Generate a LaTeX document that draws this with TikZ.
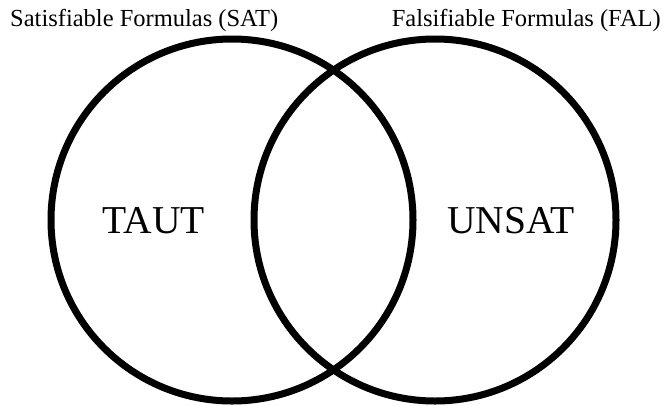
\documentclass[tikz,border=0pt]{standalone}
\usepackage{fontspec}
\setmainfont{Liberation Serif}
\begin{document}
\begin{tikzpicture}[x=1pt,y=-1pt,
  ring/.style={line width=7pt, draw=black},
  setlabel/.style={inner sep=0pt, font=\fontsize{24.5}{29}\selectfont},
  biglabel/.style={inner sep=0pt, font=\fontsize{39.5}{46}\selectfont}]
\useasboundingbox (0,0) rectangle (666,405);
\draw[ring] (232,220) circle[radius=181];
\draw[ring] (435,220) circle[radius=181];
\node[setlabel, anchor=base west] (satlabel) at (10,26) {Satisfiable Formulas (SAT)};
\node[setlabel, anchor=base east] (fallabel) at (661,26) {Falsifiable Formulas (FAL)};
\node[biglabel, anchor=base] (taut) at (154,233) {TAUT};
\node[biglabel, anchor=base] (unsat) at (511,233) {UNSAT};
\end{tikzpicture}
\end{document}
